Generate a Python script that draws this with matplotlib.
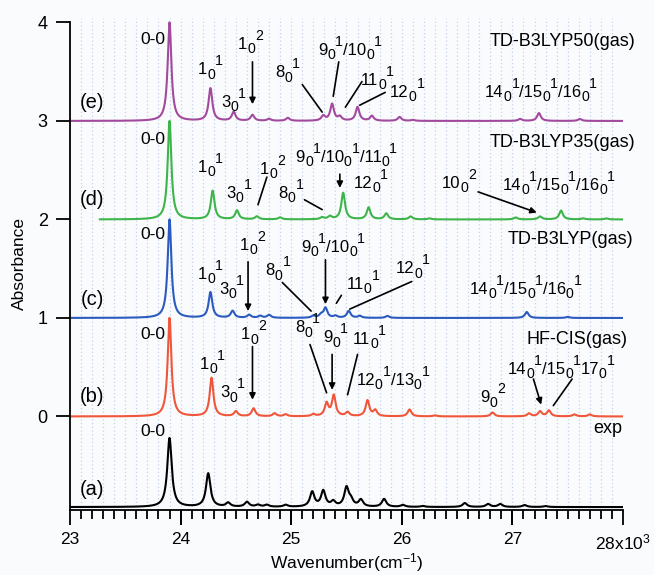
import re
import numpy as np
import matplotlib
matplotlib.use("Agg")
import matplotlib.pyplot as plt
from matplotlib.lines import Line2D
from matplotlib.ticker import FixedLocator, FixedFormatter, NullLocator

plt.rcParams["font.family"] = ["Liberation Sans", "DejaVu Sans"]
plt.rcParams["mathtext.fontset"] = "custom"
plt.rcParams["mathtext.rm"] = "Liberation Sans"
plt.rcParams["mathtext.it"] = "Liberation Sans"
plt.rcParams["mathtext.bf"] = "Liberation Sans:bold"

# peak positions (cm-1) and heights above each trace's baseline
exp_pos = [23900, 24250, 24430, 24600, 24700, 24780, 24950, 25190, 25290, 25380,
           25500, 25540, 25630, 25840, 26010, 26190, 26570, 26780, 26890, 27110, 27300]
exp_amp = [0.70, 0.34, 0.04, 0.05, 0.02, 0.02, 0.02, 0.15, 0.16, 0.05,
           0.19, 0.06, 0.07, 0.08, 0.02, 0.01, 0.04, 0.03, 0.03, 0.02, 0.01]

hf_pos = [23900, 24280, 24500, 24660, 24850, 24950, 25200, 25320, 25385, 25510,
          25690, 25760, 26070, 26300, 26820, 27150, 27250, 27330, 27560, 27700]
hf_amp = [1.00, 0.39, 0.05, 0.08, 0.03, 0.02, 0.02, 0.13, 0.21, 0.04,
          0.16, 0.06, 0.07, 0.01, 0.04, 0.03, 0.05, 0.06, 0.02, 0.02]

b3_pos = [23900, 24270, 24470, 24620, 24720, 24800, 25200, 25270, 25310, 25400,
          25520, 25620, 25870, 27130, 27500]
b3_amp = [1.00, 0.26, 0.07, 0.03, 0.02, 0.03, 0.02, 0.03, 0.10, 0.02,
          0.07, 0.02, 0.02, 0.06, 0.01]

b35_pos = [23900, 24290, 24510, 24690, 24900, 25280, 25350, 25470, 25700, 25860,
           26080, 26250, 27030, 27250, 27440, 27640, 27850]
b35_amp = [1.00, 0.29, 0.09, 0.03, 0.02, 0.02, 0.03, 0.27, 0.12, 0.06,
           0.03, 0.01, 0.02, 0.03, 0.09, 0.01, 0.01]

b50_pos = [23900, 24270, 24480, 24650, 24800, 24970, 25290, 25370, 25440, 25600,
           25730, 25980, 26100, 27070, 27240, 27610]
b50_amp = [1.00, 0.33, 0.09, 0.06, 0.02, 0.03, 0.05, 0.17, 0.04, 0.14,
           0.05, 0.04, 0.01, 0.02, 0.08, 0.02]

offsets = {"exp": -0.92, "hf": 0.0, "b3": 1.0, "b35": 2.0, "b50": 3.0}
starts = {"exp": 23000, "hf": 23000, "b3": 23000, "b35": 23270, "b50": 23000}
x_ticks = [23000, 24000, 25000, 26000, 27000, 28000]
x_ticklabels = ["23", "24", "25", "26", "27", r"28x10$^{3}$"]


def spectrum(x, pos, amp, hwhm):
    y = np.zeros_like(x)
    for p, a in zip(pos, amp):
        y += a / (1.0 + ((x - p) / hwhm) ** 2)
    return y


fig = plt.figure(figsize=(6.54, 5.75), dpi=100, facecolor="#fafbfd")
ax = fig.add_axes([0.107, 0.113, 0.8456, 0.8565])
ax.set_facecolor("#fafbfd")

minor_x = np.arange(23100, 28000, 100)
# light dotted guides every 100 cm-1
for gx in minor_x:
    ax.axvline(gx, color="#c3d1ee", ls=(0, (1, 2)), lw=0.9, zorder=0)

traces = [
    ("exp", exp_pos, exp_amp, 24, "black"),
    ("hf", hf_pos, hf_amp, 20, "#f0563a"),
    ("b3", b3_pos, b3_amp, 20, "#2b5bbf"),
    ("b35", b35_pos, b35_amp, 20, "#3db54a"),
    ("b50", b50_pos, b50_amp, 20, "#a24a9e"),
]
for key, pos, amp, w, col in traces:
    x = np.arange(starts[key], 28001, 2.0)
    ax.plot(x, spectrum(x, pos, amp, w) + offsets[key], color=col, lw=1.5)

ax.set_xlim(23000, 28000)
ax.set_ylim(-0.95, 4.05)
ax.xaxis.set_major_locator(FixedLocator(x_ticks))
ax.xaxis.set_major_formatter(FixedFormatter(x_ticklabels))
ax.xaxis.set_minor_locator(NullLocator())
ax.set_yticks([0, 1, 2, 3, 4])
ax.tick_params(axis="y", which="major", direction="out", length=10, width=1.3,
               pad=6, labelsize=13)
ax.tick_params(axis="x", which="major", direction="out", length=0, pad=16,
               labelsize=12.5)
for s in ("top", "right"):
    ax.spines[s].set_visible(False)
ax.spines["left"].set_bounds(-0.95, 4.0)
ax.spines["left"].set_linewidth(1.3)
ax.spines["bottom"].set_linewidth(1.3)
ax.set_xlabel(r"Wavenumber(cm$^{-1}$)", fontsize=12.5, labelpad=-1)
ax.set_ylabel("Absorbance", fontsize=12.5, labelpad=8)

# x tick marks as figure-level lines under the bottom spine (pixel units)
x0, y0 = ax.transAxes.transform((0, 0))
for xv in x_ticks + list(minor_x):
    px = ax.transData.transform((xv, 0))[0]
    ln = 15 if xv in x_ticks else 9
    fig.add_artist(Line2D([px, px], [y0, y0 - ln], transform=None,
                          color="black", lw=1.3, solid_capstyle="butt"))

fs = 12.5
renderer = fig.canvas.get_renderer()


def mode_label(x, y, s, size=12):
    # draw labels like "9_0^1/10_0^1": sub and sup set one after the other
    parts = []
    for sub, sup, base in re.findall(r"_(\d+)|\^(\d+)|([^_^]+)", s):
        if sub:
            parts.append((sub, size * 0.85, -3.0))
        elif sup:
            parts.append((sup, size * 0.85, 6.5))
        else:
            parts.append((base, size, 0.0))
    items = []
    for txt, sz, dy in parts:
        t = ax.annotate(txt, (x, y), xytext=(0, 0), textcoords="offset points",
                        fontsize=sz, ha="left", va="baseline")
        items.append((t, t.get_window_extent(renderer).width * 72 / fig.dpi, dy))
    total = sum(w for _, w, _ in items)
    cur = -total / 2
    for t, w, dy in items:
        t.set_position((cur, dy - 5.5))
        cur += w


# plain labels: text, (x, y), horizontal alignment, size
labels = [
    ("0-0", 23860, 3.83, "right", fs), ("(e)", 23199, 3.19, "center", 14.5),
    ("0-0", 23860, 2.81, "right", fs), ("(d)", 23199, 2.20, "center", 14.5),
    ("0-0", 23860, 1.85, "right", fs), ("(c)", 23199, 1.19, "center", 14.5),
    ("0-0", 23860, 0.83, "right", fs), ("(b)", 23199, 0.20, "center", 14.5),
    ("0-0", 23860, -0.15, "right", fs), ("(a)", 23199, -0.74, "center", 14.5),
    ("TD-B3LYP50(gas)", 28110, 3.81, "right", 13),
    ("TD-B3LYP35(gas)", 28110, 2.78, "right", 13),
    ("TD-B3LYP(gas)", 28090, 1.80, "right", 13),
    ("HF-CIS(gas)", 28045, 0.78, "right", 13),
    ("exp", 27990, -0.12, "right", 13),
]
for t, x, y, ha, sz in labels:
    ax.text(x, y, t, ha=ha, va="center", fontsize=sz)

# mode labels without pointer
modes = [
    ("1_0^1", 24270, 3.55), ("3_0^1", 24480, 3.22),
    ("14_0^1/15_0^1/16_0^1", 27260, 3.32),
    ("1_0^1", 24270, 2.56), ("3_0^1", 24530, 2.30), ("12_0^1", 25720, 2.40),
    ("14_0^1/15_0^1/16_0^1", 27420, 2.38),
    ("1_0^1", 24270, 1.47), ("3_0^1", 24460, 1.32),
    ("14_0^1/15_0^1/16_0^1", 27120, 1.32),
    ("1_0^1", 24290, 0.56), ("3_0^1", 24470, 0.27),
    ("12_0^1/13_0^1", 25920, 0.40), ("9_0^2", 26820, 0.22),
]
for s, x, y in modes:
    mode_label(x, y, s)

# labels with pointer: text, text (x, y), line start, line end, arrowhead?
pointers = [
    ("1_0^2", (24630, 3.81), (24650, 3.60), (24650, 3.17), True),
    ("8_0^1", (24970, 3.52), (25100, 3.37), (25280, 3.09), False),
    ("9_0^1/10_0^1", (25530, 3.75), (25430, 3.60), (25380, 3.25), False),
    ("11_0^1", (25780, 3.44), (25640, 3.40), (25490, 3.14), False),
    ("12_0^1", (26050, 3.32), (25850, 3.29), (25620, 3.16), False),
    ("1_0^2", (24830, 2.54), (24780, 2.43), (24700, 2.15), False),
    ("8_0^1", (25000, 2.30), (25120, 2.20), (25280, 2.10), False),
    ("9_0^1/10_0^1/11_0^1", (25500, 2.66), (25440, 2.46), (25440, 2.32), True),
    ("10_0^2", (26520, 2.40), (26690, 2.28), (27220, 2.07), True),
    ("1_0^2", (24650, 1.77), (24610, 1.57), (24610, 1.07), True),
    ("8_0^1", (24880, 1.51), (24920, 1.36), (25180, 1.07), False),
    ("9_0^1/10_0^1", (25380, 1.75), (25310, 1.59), (25310, 1.14), True),
    ("11_0^1", (25650, 1.37), (25454, 1.23), (25409, 1.15), False),
    ("12_0^1", (26100, 1.53), (26090, 1.37), (25530, 1.09), False),
    ("1_0^2", (24660, 0.86), (24650, 0.71), (24650, 0.17), True),
    ("8_0^1", (25150, 0.93), (25170, 0.73), (25320, 0.24), False),
    ("9_0^1", (25400, 0.83), (25370, 0.63), (25370, 0.27), True),
    ("11_0^1", (25710, 0.81), (25600, 0.63), (25510, 0.22), False),
    ("14_0^1/15_0^1", (27290, 0.51), (27190, 0.38), (27260, 0.12), True),
    ("17_0^1", (27770, 0.51), (27540, 0.38), (27370, 0.11), False),
]
for s, txy, tail, head, has_head in pointers:
    mode_label(txy[0], txy[1], s)
    style = "-|>" if has_head else "-"
    ax.annotate("", xy=head, xytext=tail,
                arrowprops=dict(arrowstyle=style, color="black", lw=1.2,
                                mutation_scale=9, shrinkA=0, shrinkB=0))

fig.savefig("out.png", dpi=100, facecolor=fig.get_facecolor())
